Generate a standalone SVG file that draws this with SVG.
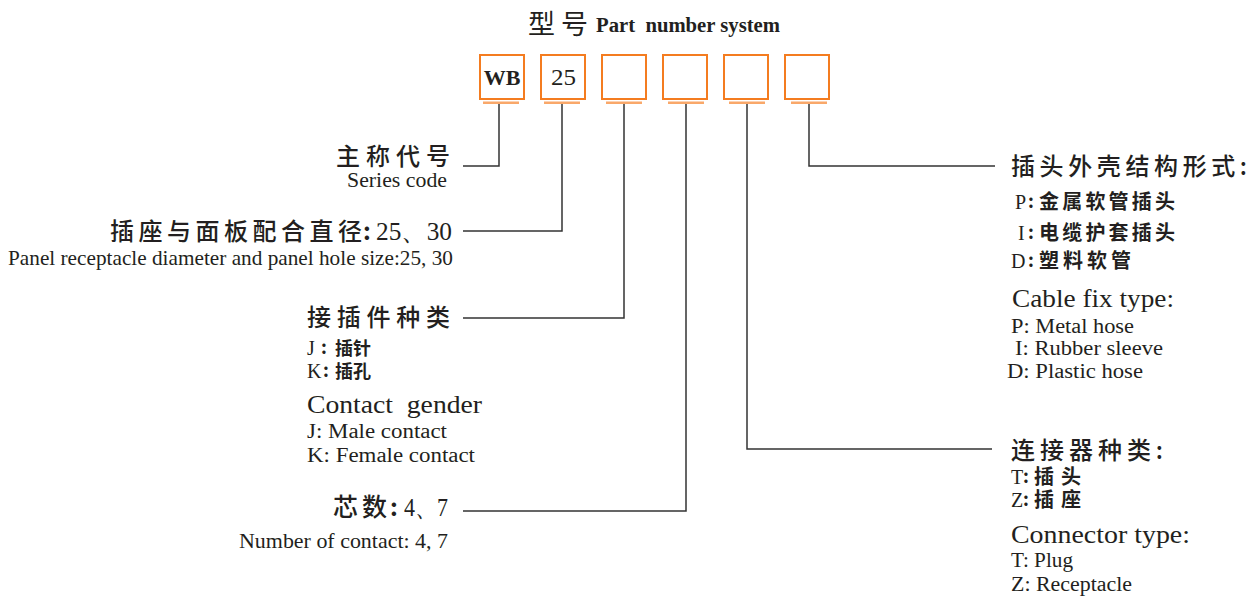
<svg xmlns="http://www.w3.org/2000/svg" width="1250" height="598" viewBox="0 0 1250 598">
<style>
.s{font-family:"Liberation Serif","Times New Roman",serif;fill:#231f20}
.c{font-family:"Noto Sans CJK SC","Noto Sans",sans-serif;fill:#231f20}
.h{font-weight:500}
.sm{font-size:20px}
.ck{font-weight:700}
.box{fill:#fff;stroke:#f47c20;stroke-width:2}
.bar{fill:#f9a86a}
.ln{fill:none;stroke:#333;stroke-width:1.5}
</style>
<rect width="1250" height="598" fill="#fff"/>
<g id="title">
<text class="c" x="528" y="34" font-size="27" textLength="60">型号</text>
<text class="s" x="596" y="32" font-size="20" font-weight="700" textLength="184" lengthAdjust="spacingAndGlyphs" xml:space="preserve">Part  number system</text>
</g>
<g id="boxes">
<g id="box1"><rect class="box" x="480" y="55" width="44" height="44"/><rect class="bar" x="483" y="101.5" width="36" height="2.5"/><text class="s" x="502" y="85" font-size="22" font-weight="700" text-anchor="middle">WB</text></g>
<g id="box2"><rect class="box" x="541" y="55" width="44" height="44"/><rect class="bar" x="544" y="101.5" width="36" height="2.5"/><text class="s" x="551" y="85" font-size="24" textLength="25" lengthAdjust="spacingAndGlyphs">25</text></g>
<g id="box3"><rect class="box" x="602" y="55" width="44" height="44"/><rect class="bar" x="606" y="101.5" width="36" height="2.5"/></g>
<g id="box4"><rect class="box" x="663" y="55" width="44" height="44"/><rect class="bar" x="668" y="101.5" width="36" height="2.5"/></g>
<g id="box5"><rect class="box" x="724" y="55" width="44" height="44"/><rect class="bar" x="729" y="101.5" width="36" height="2.5"/></g>
<g id="box6"><rect class="box" x="785" y="55" width="44" height="44"/><rect class="bar" x="791" y="101.5" width="36" height="2.5"/></g>
</g>
<g id="connectors">
<polyline class="ln" points="499,104 499,166 463,166"/>
<polyline class="ln" points="562,104 562,231 463,231"/>
<polyline class="ln" points="624,104 624,318 463,318"/>
<polyline class="ln" points="686,104 686,511 463,511"/>
<polyline class="ln" points="747,104 747,449 992,449"/>
<polyline class="ln" points="809,104 809,166 995,166"/>
</g>
<g id="series">
<text class="c h" x="336" y="165" font-size="24" textLength="114">主称代号</text>
<text class="s" x="347" y="187" font-size="21" textLength="100" lengthAdjust="spacingAndGlyphs">Series code</text>
</g>
<g id="diameter">
<text class="c h" x="110" y="240" font-size="24" textLength="252">插座与面板配合直径</text>
<text class="c ck" x="363" y="240" font-size="24">:</text>
<text class="s" x="376" y="240" font-size="26" textLength="76" lengthAdjust="spacingAndGlyphs">25、30</text>
<text class="s" x="8" y="265" font-size="21" textLength="445" lengthAdjust="spacingAndGlyphs">Panel receptacle diameter and panel hole size:25, 30</text>
</g>
<g id="gender">
<text class="c h" x="307" y="326" font-size="24" textLength="143">接插件种类</text>
<text class="s sm" x="307" y="355">J</text><text class="c ck" x="321" y="354" font-size="18">:</text><text class="c ck" x="335" y="355" font-size="18">插针</text>
<text class="s sm" x="307" y="378">K</text><text class="c ck" x="323" y="377" font-size="18">:</text><text class="c ck" x="335" y="378" font-size="18">插孔</text>
<text class="s" x="307" y="413" font-size="26" textLength="175" lengthAdjust="spacingAndGlyphs" xml:space="preserve">Contact  gender</text>
<text class="s sm" x="307" y="438" textLength="140" lengthAdjust="spacingAndGlyphs">J: Male  contact</text>
<text class="s sm" x="307" y="462" textLength="168" lengthAdjust="spacingAndGlyphs">K: Female  contact</text>
</g>
<g id="contacts">
<text class="c h" x="333" y="516" font-size="25" textLength="54">芯数</text>
<text class="c ck" x="390" y="516" font-size="24">:</text>
<text class="s" x="404" y="516" font-size="26" textLength="44" lengthAdjust="spacingAndGlyphs">4、7</text>
<text class="s" x="239" y="548" font-size="21" textLength="209" lengthAdjust="spacingAndGlyphs">Number of contact: 4, 7</text>
</g>
<g id="cablefix">
<text class="c h" x="1011" y="175" font-size="24" textLength="236">插头外壳结构形式:</text>
<text class="s sm" x="1015" y="209">P</text><text class="c ck" x="1028" y="208" font-size="18">:</text><text class="c" x="1039" y="209" font-size="20" font-weight="600" textLength="136">金属软管插头</text>
<text class="s sm" x="1018" y="240">I</text><text class="c ck" x="1028" y="239" font-size="18">:</text><text class="c" x="1039" y="240" font-size="20" font-weight="600" textLength="136">电缆护套插头</text>
<text class="s sm" x="1011" y="268">D</text><text class="c ck" x="1028" y="267" font-size="18">:</text><text class="c" x="1039" y="268" font-size="20" font-weight="600" textLength="92">塑料软管</text>
<text class="s" x="1012" y="307" font-size="26" textLength="162" lengthAdjust="spacingAndGlyphs">Cable fix type:</text>
<text class="s sm" x="1011" y="333" textLength="123" lengthAdjust="spacingAndGlyphs">P: Metal hose</text>
<text class="s sm" x="1015" y="355" textLength="148" lengthAdjust="spacingAndGlyphs">I: Rubber sleeve</text>
<text class="s sm" x="1007" y="378" textLength="136" lengthAdjust="spacingAndGlyphs">D: Plastic hose</text>
</g>
<g id="conntype">
<text class="c h" x="1011" y="459" font-size="24" textLength="152">连接器种类:</text>
<text class="s sm" x="1011" y="484">T</text><text class="c ck" x="1023" y="483" font-size="18">:</text><text class="c" x="1034" y="484" font-size="20" font-weight="600" textLength="47">插头</text>
<text class="s sm" x="1011" y="507">Z</text><text class="c ck" x="1023" y="506" font-size="18">:</text><text class="c" x="1034" y="507" font-size="20" font-weight="600" textLength="47">插座</text>
<text class="s" x="1011" y="543" font-size="26" textLength="179" lengthAdjust="spacingAndGlyphs">Connector type:</text>
<text class="s sm" x="1011" y="567" textLength="62" lengthAdjust="spacingAndGlyphs">T: Plug</text>
<text class="s sm" x="1011" y="591" textLength="121" lengthAdjust="spacingAndGlyphs">Z: Receptacle</text>
</g>
</svg>
